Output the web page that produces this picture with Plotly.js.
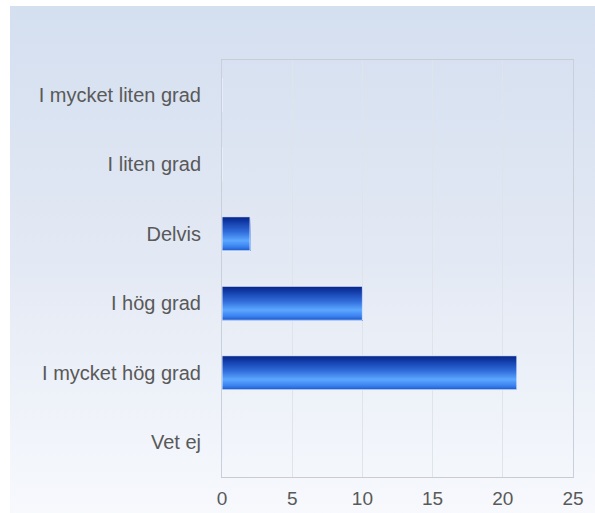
<!DOCTYPE html>
<html>
<head>
<meta charset="utf-8">
<script src="https://cdn.plot.ly/plotly-3.0.1.min.js"></script>
<style>
  html, body { margin: 0; padding: 0; background: #ffffff; }
  #wrap { position: relative; width: 595px; height: 513px; overflow: hidden; }
  #bg { position: absolute; left: 10px; top: 6px; width: 585px; height: 507px;
        background: linear-gradient(to bottom, #d4dff0 0%, #e3e9f4 50%, #f7f9fd 100%); }
  #chart { position: absolute; left: 0; top: 0; width: 595px; height: 513px; }
</style>
</head>
<body>
<div id="wrap">
  <div id="bg"></div>
  <div id="chart"></div>
</div>
<script>
// Data
var categories = ["I mycket liten grad", "I liten grad", "Delvis", "I hög grad", "I mycket hög grad", "Vet ej"];
var values = [0, 0, 2, 10, 21, 0];
var xTicks = [0, 5, 10, 15, 20, 25];

// Styling for the gradient bars (drawn as overlaid bar layers)
var gradientStops = [
  [0.00, [6, 36, 134]],
  [0.15, [18, 60, 168]],
  [0.45, [50, 110, 220]],
  [0.70, [92, 168, 255]],
  [0.88, [60, 130, 240]],
  [1.00, [28, 88, 200]]
];
function colorAt(t) {
  for (var i = 0; i < gradientStops.length - 1; i++) {
    var a = gradientStops[i], b = gradientStops[i + 1];
    if (t >= a[0] && t <= b[0]) {
      var f = (t - a[0]) / (b[0] - a[0]);
      var c = a[1].map(function (v, k) { return Math.round(v + (b[1][k] - v) * f); });
      return "rgb(" + c.join(",") + ")";
    }
  }
  return "rgb(" + gradientStops[gradientStops.length - 1][1].join(",") + ")";
}

var barWidth = 0.49;
var nStripes = 34;
var stripeW = barWidth / nStripes;
var traces = [];
for (var i = 0; i < nStripes; i++) {
  traces.push({
    type: "bar",
    orientation: "h",
    y: categories,
    x: values,
    offset: -barWidth / 2 + i * stripeW,
    width: barWidth - i * stripeW,
    marker: { color: colorAt((i + 0.5) / nStripes), line: { width: 0 } },
    hoverinfo: "skip",
    showlegend: false
  });
}
// thin light outline around each bar
traces.push({
  type: "bar",
  orientation: "h",
  y: categories,
  x: values,
  offset: -barWidth / 2,
  width: barWidth,
  marker: { color: "rgba(0,0,0,0)", line: { width: 1, color: "rgba(235,242,255,0.9)" } },
  hoverinfo: "skip",
  showlegend: false
});

var layout = {
  width: 595,
  height: 513,
  margin: { l: 222, r: 22, t: 60, b: 36 },
  paper_bgcolor: "rgba(0,0,0,0)",
  plot_bgcolor: "rgba(0,0,0,0)",
  barmode: "overlay",
  showlegend: false,
  font: { family: "Liberation Sans, Arial, sans-serif", size: 19, color: "#595959" },
  xaxis: {
    range: [0, 25],
    tickvals: xTicks,
    ticktext: xTicks.map(String),
    showgrid: true,
    gridcolor: "#dfe3ea",
    gridwidth: 1,
    zeroline: false,
    showline: true,
    mirror: true,
    linecolor: "#c9cdd3",
    linewidth: 1,
    ticks: "",
    ticklabelstandoff: 4,
    tickfont: { size: 19, color: "#595959" },
    fixedrange: true
  },
  yaxis: {
    type: "category",
    categoryorder: "array",
    categoryarray: categories,
    autorange: "reversed",
    showgrid: false,
    zeroline: false,
    showline: true,
    mirror: true,
    linecolor: "#c9d0dc",
    linewidth: 1,
    ticks: "",
    ticklabelstandoff: 16,
    tickfont: { size: 20, color: "#595959" },
    fixedrange: true
  }
};

Plotly.newPlot("chart", traces, layout, { staticPlot: true, displayModeBar: false });
</script>
</body>
</html>
